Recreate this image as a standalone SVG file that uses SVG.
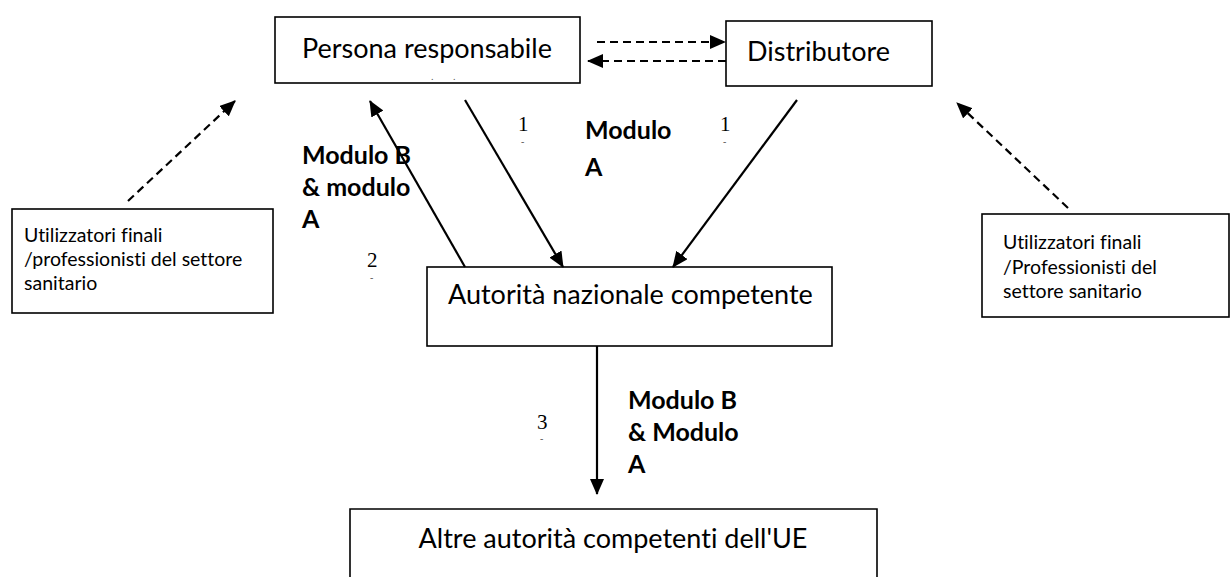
<svg xmlns="http://www.w3.org/2000/svg" width="1232" height="577" viewBox="0 0 1232 577">
  <style>
    .box { fill: #fff; stroke: #000; stroke-width: 1.6; }
    .lbl { font-family: Lato, "Liberation Sans", sans-serif; fill: #000; font-variant-ligatures: none; }
    .big { font-size: 27px; }
    .small { font-size: 19.5px; }
    .bold { font-family: Lato, "Liberation Sans", sans-serif; font-weight: bold; font-size: 25px; fill: #000; }
    .num { font-family: "Liberation Serif", serif; font-size: 21px; fill: #000; }
    .tick { font-family: "Liberation Serif", serif; font-size: 10px; fill: #555; }
    .line { stroke: #000; stroke-width: 2.2; fill: none; }
    .dash { stroke: #000; stroke-width: 2.2; fill: none; stroke-dasharray: 8 5; }
  </style>
  <defs>
    <marker id="head" viewBox="0 0 16 14" refX="15" refY="7" markerWidth="16" markerHeight="14" markerUnits="userSpaceOnUse" orient="auto">
      <path d="M0,0 L16,7 L0,14 z" fill="#000"/>
    </marker>
  </defs>

  <rect width="1232" height="577" fill="#fff"/>

  <g id="persona-responsabile">
    <rect class="box" x="275" y="17" width="305" height="66"/>
    <text class="lbl big" x="427" y="58" text-anchor="middle">Persona responsabile</text>
    <text class="tick" x="431" y="80">.</text>
    <text class="tick" x="453" y="80">.</text>
  </g>

  <g id="distributore">
    <rect class="box" x="726" y="21" width="206" height="65"/>
    <text class="lbl big" x="747" y="61">Distributore</text>
  </g>

  <g id="utilizzatori-sinistra">
    <rect class="box" x="12" y="209" width="261" height="104"/>
    <text class="lbl small" x="24" y="242">Utilizzatori finali</text>
    <text class="lbl small" x="24" y="266">/professionisti del settore</text>
    <text class="lbl small" x="24" y="290">sanitario</text>
  </g>

  <g id="utilizzatori-destra">
    <rect class="box" x="982" y="214" width="247" height="103"/>
    <text class="lbl small" x="1003" y="249">Utilizzatori finali</text>
    <text class="lbl small" x="1003" y="274">/Professionisti del</text>
    <text class="lbl small" x="1003" y="298">settore sanitario</text>
  </g>

  <g id="autorita-nazionale">
    <rect class="box" x="427" y="267" width="405" height="79"/>
    <text class="lbl big" x="448" y="304">Autorità nazionale competente</text>
  </g>

  <g id="altre-autorita">
    <path class="box" d="M350,577 V509 H877 V577" fill="none"/>
    <text class="lbl big" x="613" y="548" text-anchor="middle">Altre autorità competenti dell'UE</text>
  </g>

  <g id="connectors">
    <line class="dash" x1="597" y1="42" x2="725" y2="42" marker-end="url(#head)"/>
    <line class="dash" x1="726" y1="61" x2="588" y2="61" marker-end="url(#head)"/>
    <line class="line" x1="465" y1="100" x2="563" y2="267" marker-end="url(#head)"/>
    <line class="line" x1="797" y1="100" x2="673" y2="267" marker-end="url(#head)"/>
    <line class="line" x1="465" y1="267" x2="370" y2="101" marker-end="url(#head)"/>
    <line class="line" x1="597" y1="346" x2="597" y2="494" marker-end="url(#head)"/>
    <line class="dash" x1="128" y1="201" x2="235" y2="101" marker-end="url(#head)"/>
    <line class="dash" x1="1068" y1="208" x2="957" y2="103" marker-end="url(#head)"/>
  </g>

  <g id="labels">
    <text class="num" x="518" y="131">1</text>
    <text class="tick" x="521" y="145">-</text>
    <text class="num" x="720" y="131">1</text>
    <text class="tick" x="723" y="145">-</text>
    <text class="bold" x="585" y="139">Modulo</text>
    <text class="bold" x="585" y="176">A</text>
    <text class="bold" x="302" y="164">Modulo B</text>
    <text class="bold" x="302" y="196">&amp; modulo</text>
    <text class="bold" x="302" y="228">A</text>
    <text class="num" x="367" y="267">2</text>
    <text class="tick" x="370" y="281">-</text>
    <text class="num" x="537" y="429">3</text>
    <text class="tick" x="540" y="442">-</text>
    <text class="bold" x="628" y="409">Modulo B</text>
    <text class="bold" x="628" y="441">&amp; Modulo</text>
    <text class="bold" x="628" y="473">A</text>
  </g>
</svg>
